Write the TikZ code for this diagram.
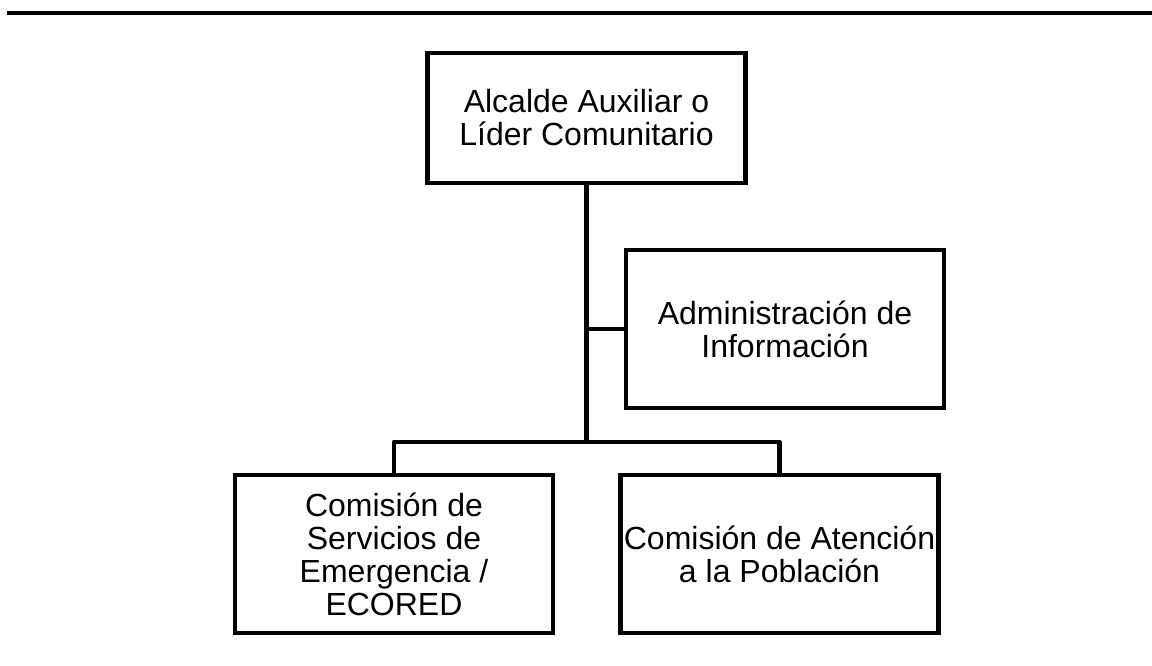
\documentclass[tikz,border=0pt]{standalone}
\usepackage{fontspec}
\setmainfont{Liberation Sans}
\usepackage{tikz}
\usetikzlibrary{positioning}
\tikzset{cargo/.style={draw,line width=3.3pt,rectangle,align=center,inner sep=0pt,outer sep=0pt,
  font=\fontsize{24}{24.75}\selectfont,minimum width=238.5pt,minimum height=118.5pt},
  enlace/.style={line width=3.3pt,line join=round}}

\begin{document}
\begin{tikzpicture}[x=0.75pt,y=-0.75pt]%organigrama comunitario
\useasboundingbox (0,0) rectangle (1152,666);
%rule at the top of the page
\draw[line width=2.4pt] (7,13) -- (1152,13);
%the boxes
\node[cargo,minimum height=97.5pt] (alcalde) at (586.5,118) {Alcalde Auxiliar o\\L\'ider Comunitario};
\node[cargo] (info) at (785,329) {Administraci\'on de\\Informaci\'on};
\node[cargo] (ecored) at (394,554) {Comisi\'on de\\Servicios de\\Emergencia /\\ECORED};
\node[cargo] (poblacion) at (779.5,554) {Comisi\'on de Atenci\'on\\a la Poblaci\'on};
%stem and branches
\coordinate (split) at (alcalde.south |- 0,442);
\draw[enlace] (alcalde.south) -- (split);
\draw[enlace] (alcalde.south |- info.west) -- (info.west);
\draw[enlace] (ecored.north) -- (ecored.north |- split) -- (poblacion.north |- split) -- (poblacion.north);
\end{tikzpicture}
\end{document}
